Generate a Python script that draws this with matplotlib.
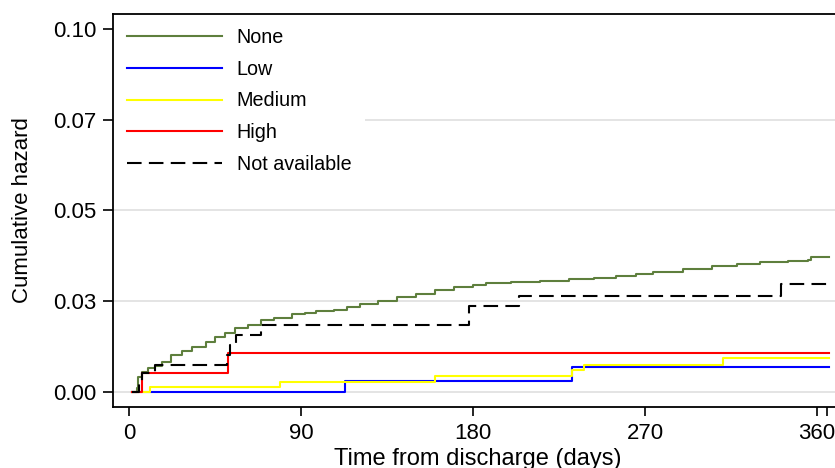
import matplotlib
matplotlib.use("Agg")
import matplotlib.pyplot as plt

plt.rcParams['font.family'] = ['Liberation Sans', 'DejaVu Sans']

# ---- data ----
none_t = [1.4, 4, 4.9, 6.6, 10, 13.6, 17, 22, 27.6, 33, 40, 45, 50, 55.5, 62.4, 69, 76,
          85, 92, 98, 107, 114, 121, 130, 140, 150, 160, 170, 180, 187, 200, 215, 230,
          243, 255, 265, 274, 290, 305, 318, 330, 345, 355, 357, 366]
none_v = [0.0, 0.0011, 0.0042, 0.0056, 0.0065, 0.0072, 0.0083, 0.0102, 0.0114, 0.0125,
          0.0139, 0.0152, 0.0162, 0.0175, 0.0185, 0.0198, 0.0205, 0.0214, 0.0218, 0.0222,
          0.0226, 0.0234, 0.0242, 0.0252, 0.0262, 0.0270, 0.0281, 0.0288, 0.0295, 0.0300,
          0.0304, 0.0307, 0.0310, 0.0314, 0.0320, 0.0326, 0.0331, 0.0338, 0.0346, 0.0352,
          0.0358, 0.0362, 0.0364, 0.0372, 0.0372]

low_t = [1.4, 113, 232, 366]
low_v = [0.0, 0.0031, 0.0069, 0.0069]

med_t = [1.4, 11, 79, 160, 232, 238, 311, 366]
med_v = [0.0, 0.0015, 0.0028, 0.0044, 0.0061, 0.0074, 0.0094, 0.0094]

high_t = [1.4, 6.6, 52, 366]
high_v = [0.0, 0.0053, 0.0108, 0.0108]

na_t = [1.4, 5, 7, 13.6, 51, 53, 56, 69, 178, 204, 341, 366]
na_v = [0.0, 0.0028, 0.0052, 0.0074, 0.0102, 0.0130, 0.0157, 0.0185, 0.0237, 0.0264,
        0.0298, 0.0298]

labels = ["None", "Low", "Medium", "High", "Not available"]
colors = ["#5e7f3d", "#0000ff", "#ffff00", "#ff0000", "#000000"]

xticks = [0, 90, 180, 270, 360, 365]
xticklabels = ["0", "90", "180", "270", "360", ""]
yticks = [0.0, 0.025, 0.05, 0.075, 0.1]
yticklabels = ["0.00", "0.03", "0.05", "0.07", "0.10"]
grid_y = [0.0, 0.025, 0.05, 0.075]

# ---- figure ----
fig = plt.figure(figsize=(8.35, 4.68), dpi=100)
ax = fig.add_axes([113 / 835, 61 / 468, (842 - 113) / 835, (407 - 14) / 468])

for gy in grid_y:
    ax.axhline(gy, color="#e2e2e2", lw=1.3, zorder=0)

series = [(none_t, none_v), (low_t, low_v), (med_t, med_v), (high_t, high_v), (na_t, na_v)]
for (t, v), lab, c in zip(series, labels, colors):
    if lab == "Not available":
        ax.plot(t, v, drawstyle="steps-post", color=c, lw=1.5, label=lab,
                dashes=(7, 3.5), zorder=3)
    else:
        ax.plot(t, v, drawstyle="steps-post", color=c, lw=1.5, label=lab, zorder=2)

ax.set_xlim(-8.4, 373)
ax.set_ylim(-0.00413, 0.10413)
ax.set_xticks(xticks)
ax.set_xticklabels(xticklabels)
ax.set_yticks(yticks)
ax.set_yticklabels(yticklabels)
ax.tick_params(axis="both", direction="out", width=1.2, labelsize=16, color="black")
ax.tick_params(axis="x", length=6.5, pad=5)
ax.tick_params(axis="y", length=7, pad=5)

for s in ["left", "bottom", "top"]:
    ax.spines[s].set_linewidth(1.3)
    ax.spines[s].set_zorder(10)
ax.spines["right"].set_visible(False)

ax.set_xlabel("Time from discharge (days)", fontsize=17)
ax.xaxis.label.set_va("baseline")
ax.xaxis.set_label_coords(0.5007, -58 / 393)
ax.set_ylabel("Cumulative hazard", fontsize=16)
ax.yaxis.label.set_va("center")
ax.yaxis.set_label_coords(-90 / 729, 0.501)

leg = ax.legend(loc="upper left", bbox_to_anchor=(0, 1), borderaxespad=0,
                frameon=True, fancybox=False, framealpha=1, facecolor="white",
                edgecolor="white", fontsize=14.2, handlelength=4.8, handletextpad=0.75,
                labelspacing=0.64, borderpad=0.72)
leg.get_frame().set_linewidth(0)
leg.set_zorder(5)

fig.savefig("out.png", dpi=100)
